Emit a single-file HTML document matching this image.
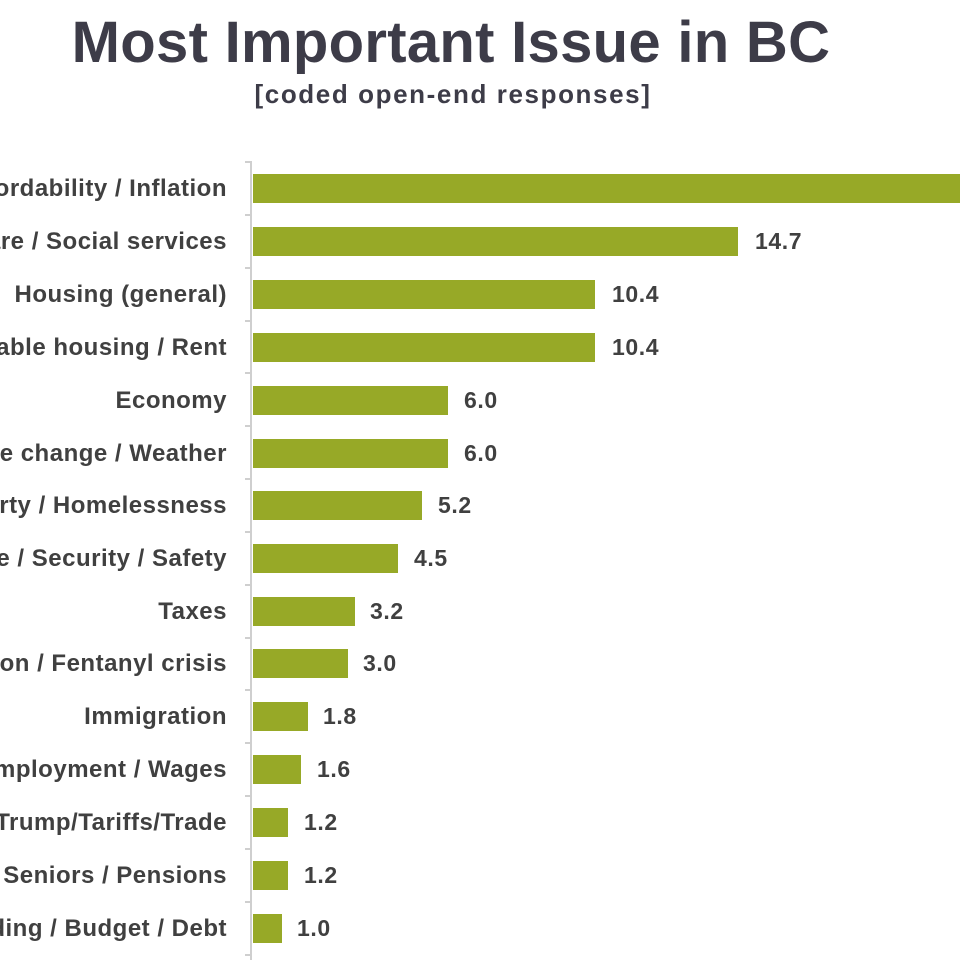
<!DOCTYPE html>
<html><head><meta charset="utf-8"><style>body{margin:0;background:#fff}svg{display:block}</style></head>
<body>
<svg width="960" height="960" xmlns="http://www.w3.org/2000/svg" font-family="Liberation Sans, Arial, sans-serif" font-weight="bold">
<text x="451" y="62" text-anchor="middle" font-size="58" letter-spacing="0.3" fill="#3d3c48">Most Important Issue in BC</text>
<text x="453" y="103" text-anchor="middle" font-size="26" letter-spacing="1.6" fill="#3d3c48">[coded open-end responses]</text>
<g stroke="#cfcfcf" stroke-width="2">
<line x1="251" y1="161" x2="251" y2="960"/>
<line x1="245" y1="162" x2="251" y2="162"/>
<line x1="245" y1="215" x2="251" y2="215"/>
<line x1="245" y1="268" x2="251" y2="268"/>
<line x1="245" y1="321" x2="251" y2="321"/>
<line x1="245" y1="373" x2="251" y2="373"/>
<line x1="245" y1="426" x2="251" y2="426"/>
<line x1="245" y1="479" x2="251" y2="479"/>
<line x1="245" y1="532" x2="251" y2="532"/>
<line x1="245" y1="585" x2="251" y2="585"/>
<line x1="245" y1="638" x2="251" y2="638"/>
<line x1="245" y1="690" x2="251" y2="690"/>
<line x1="245" y1="743" x2="251" y2="743"/>
<line x1="245" y1="796" x2="251" y2="796"/>
<line x1="245" y1="849" x2="251" y2="849"/>
<line x1="245" y1="902" x2="251" y2="902"/>
<line x1="245" y1="955" x2="251" y2="955"/>
</g>
<g fill="#97a927">
<rect x="253" y="174" width="720" height="29"/>
<rect x="253" y="227" width="485" height="29"/>
<rect x="253" y="280" width="342" height="29"/>
<rect x="253" y="333" width="342" height="29"/>
<rect x="253" y="386" width="195" height="29"/>
<rect x="253" y="439" width="195" height="29"/>
<rect x="253" y="491" width="169" height="29"/>
<rect x="253" y="544" width="145" height="29"/>
<rect x="253" y="597" width="102" height="29"/>
<rect x="253" y="649" width="95" height="29"/>
<rect x="253" y="702" width="55" height="29"/>
<rect x="253" y="755" width="48" height="29"/>
<rect x="253" y="808" width="35" height="29"/>
<rect x="253" y="861" width="35" height="29"/>
<rect x="253" y="914" width="29" height="29"/>
</g>
<g font-size="24" letter-spacing="0.5" fill="#404040" text-anchor="end">
<text x="227" y="196">Affordability / Inflation</text>
<text x="227" y="249">Healthcare / Social services</text>
<text x="227" y="302">Housing (general)</text>
<text x="227" y="355">Affordable housing / Rent</text>
<text x="227" y="408">Economy</text>
<text x="227" y="461">Climate change / Weather</text>
<text x="227" y="513">Poverty / Homelessness</text>
<text x="227" y="566">Crime / Security / Safety</text>
<text x="227" y="619">Taxes</text>
<text x="227" y="671">Addiction / Fentanyl crisis</text>
<text x="227" y="724">Immigration</text>
<text x="227" y="777">Unemployment / Wages</text>
<text x="227" y="830">Trump/Tariffs/Trade</text>
<text x="227" y="883">Seniors / Pensions</text>
<text x="227" y="936">Spending / Budget / Debt</text>
</g>
<g font-size="23" letter-spacing="0.6" fill="#404040">
<text x="755" y="249">14.7</text>
<text x="612" y="302">10.4</text>
<text x="612" y="355">10.4</text>
<text x="464" y="408">6.0</text>
<text x="464" y="461">6.0</text>
<text x="438" y="513">5.2</text>
<text x="414" y="566">4.5</text>
<text x="370" y="619">3.2</text>
<text x="363" y="671">3.0</text>
<text x="323" y="724">1.8</text>
<text x="317" y="777">1.6</text>
<text x="304" y="830">1.2</text>
<text x="304" y="883">1.2</text>
<text x="297" y="936">1.0</text>
</g>
</svg>
</body></html>
